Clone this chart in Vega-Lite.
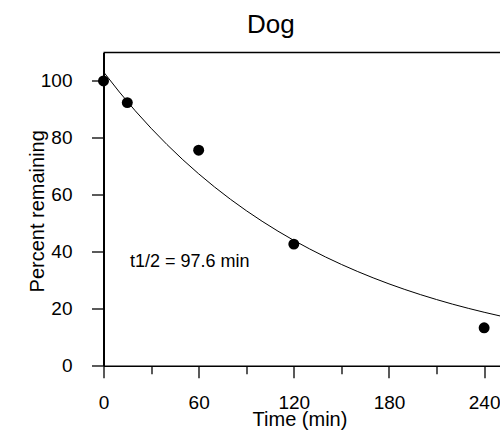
{
  "$schema": "https://vega.github.io/schema/vega-lite/v6.json",
  "width": 396.5,
  "height": 313.2,
  "autosize": "none",
  "padding": {"left": 103.5, "top": 52.5, "right": 0, "bottom": 64.3},
  "config": {"view": {"stroke": null}, "font": "Liberation Sans"},
  "title": {"text": "Dog", "anchor": "start", "frame": "group", "dx": 143.5, "fontSize": 26, "fontWeight": "normal", "font": "Liberation Sans", "color": "black", "baseline": "alphabetic", "offset": -7.5},
  "datasets": {
    "observed": [
      {"time": 0, "percent": 100},
      {"time": 15, "percent": 92.4},
      {"time": 60, "percent": 75.7},
      {"time": 120, "percent": 42.7},
      {"time": 240, "percent": 13.3}
    ],
    "fit": [
      {"time": 0, "percent": 103.2},
      {"time": 10, "percent": 96.12},
      {"time": 20, "percent": 89.53},
      {"time": 30, "percent": 83.4},
      {"time": 40, "percent": 77.68},
      {"time": 50, "percent": 72.35},
      {"time": 60, "percent": 67.39},
      {"time": 70, "percent": 62.77},
      {"time": 80, "percent": 58.47},
      {"time": 90, "percent": 54.46},
      {"time": 100, "percent": 50.73},
      {"time": 110, "percent": 47.25},
      {"time": 120, "percent": 44.01},
      {"time": 130, "percent": 41.0},
      {"time": 140, "percent": 38.18},
      {"time": 150, "percent": 35.57},
      {"time": 160, "percent": 33.13},
      {"time": 170, "percent": 30.86},
      {"time": 180, "percent": 28.74},
      {"time": 190, "percent": 26.77},
      {"time": 200, "percent": 24.94},
      {"time": 210, "percent": 23.23},
      {"time": 220, "percent": 21.63},
      {"time": 230, "percent": 20.15},
      {"time": 240, "percent": 18.77},
      {"time": 250, "percent": 17.48}
    ]
  },
  "layer": [
    {
      "data": {"name": "fit"},
      "mark": {"type": "line", "color": "black", "strokeWidth": 1, "clip": true},
      "encoding": {
        "x": {
          "field": "time", "type": "quantitative",
          "scale": {"domain": [0, 250], "nice": false, "zero": false},
          "axis": {
            "title": "Time (min)",
            "values": [0, 30, 60, 90, 120, 150, 180, 210, 240],
            "labelExpr": "datum.value % 60 === 0 ? datum.label : ''",
            "tickSize": {"condition": {"test": "datum.value % 60 === 0", "value": 12}, "value": 8},
            "grid": false,
            "domainColor": "black", "domainWidth": 1.5,
            "tickColor": "black", "tickWidth": 1.3,
            "labelFontSize": 19, "labelFont": "Liberation Sans", "labelColor": "black",
            "labelBaseline": "alphabetic", "labelPadding": 30.6,
            "labelFlush": false, "labelOverlap": false,
            "titleFontSize": 20, "titleFont": "Liberation Sans", "titleFontWeight": "normal", "titleColor": "black",
            "titleX": 196, "titleY": 59.3, "titleBaseline": "alphabetic", "titleAlign": "center"
          }
        },
        "y": {
          "field": "percent", "type": "quantitative",
          "scale": {"domain": [0, 110], "nice": false},
          "axis": {
            "title": "Percent remaining",
            "values": [0, 10, 20, 30, 40, 50, 60, 70, 80, 90, 100, 110],
            "labelExpr": "datum.value % 20 === 0 && datum.value <= 100 ? datum.label : ''",
            "tickSize": {"condition": {"test": "datum.value % 20 === 0 && datum.value <= 100", "value": 12}, "value": 8},
            "grid": false,
            "domainColor": "black", "domainWidth": 2,
            "tickColor": "black", "tickWidth": 1.3,
            "labelFontSize": 19, "labelFont": "Liberation Sans", "labelColor": "black",
            "labelBaseline": "middle", "labelPadding": 19.5,
            "labelFlush": false, "labelOverlap": false,
            "titleFontSize": 20, "titleFont": "Liberation Sans", "titleFontWeight": "normal", "titleColor": "black",
            "titleX": -60.2, "titleY": 158.3, "titleBaseline": "alphabetic", "titleAlign": "center", "titleAngle": -90
          }
        }
      }
    },
    {
      "data": {"name": "observed"},
      "mark": {"type": "point", "filled": true, "color": "black", "size": 120, "opacity": 1},
      "encoding": {
        "x": {"field": "time", "type": "quantitative"},
        "y": {"field": "percent", "type": "quantitative"}
      }
    },
    {
      "data": {"values": [{}]},
      "mark": {"type": "rule", "color": "black", "strokeWidth": 1.5},
      "encoding": {"y": {"datum": 110}}
    },
    {
      "data": {"values": [{}]},
      "mark": {"type": "text", "align": "left", "baseline": "alphabetic", "fontSize": 18, "font": "Liberation Sans", "color": "black"},
      "encoding": {
        "x": {"datum": 16.7},
        "y": {"datum": 34.5},
        "text": {"value": "t1/2 = 97.6 min"}
      }
    }
  ]
}
